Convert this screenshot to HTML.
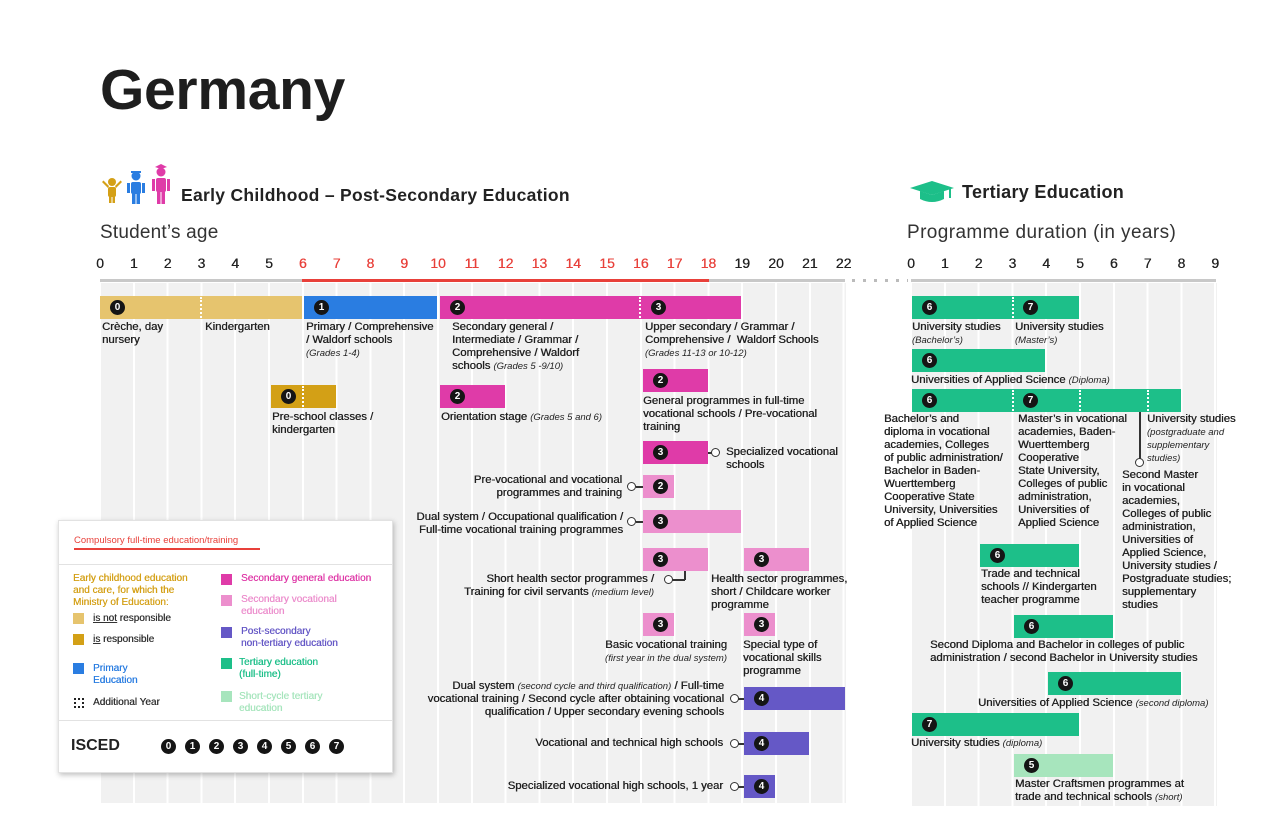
<!DOCTYPE html>
<html><head><meta charset="utf-8">
<style>
*{margin:0;padding:0;box-sizing:border-box}
body{width:1276px;height:826px;background:#fff;position:relative;overflow:hidden;font-family:"Liberation Sans",sans-serif;color:#2a2a2a}
.a{position:absolute}
.bg{position:absolute;background:repeating-linear-gradient(to right,#fff 0 2px,#f1f1f1 2px 33.8px)}
.b{position:absolute;height:23px}
.n{position:absolute;left:10px;top:4px;width:15px;height:15px;border-radius:50%;background:#151515;color:#fff;font:bold 10px/15px "Liberation Sans",sans-serif;text-align:center}
.d{position:absolute;top:1px;bottom:1px;border-left:2px dotted #fff}
.t{position:absolute;font-size:11.3px;line-height:13px;color:#222;white-space:nowrap;text-shadow:0.35px 0 0 #222}
.r{text-align:right}
.i{font-style:italic;font-size:9.5px;text-shadow:none}
.tk{position:absolute;top:255px;font-size:14px;width:30px;margin-left:-15px;text-align:center;color:#222;text-shadow:0.3px 0 0 currentColor}
.red{color:#e8403a}
.c{position:absolute;width:9px;height:9px;border:1.5px solid #333;border-radius:50%;background:#fff}
.ln{position:absolute;background:#333}
.g0{background:#e6c46e}.g1{background:#d3a016}.bl{background:#2a7de1}.mg{background:#df3ba8}.pk{background:#ec8fcd}.pu{background:#6558c6}.gr{background:#1dbf89}.lg{background:#a7e5bd}
.sq{position:absolute;width:11px;height:11px}
.ln2{position:absolute;font-size:10px;line-height:12px;text-shadow:0.3px 0 0 currentColor}
</style></head><body>
<div class="a" style="left:100px;top:57px;font-size:57px;font-weight:bold;color:#1e1e1e;letter-spacing:-0.3px">Germany</div>

<svg class="a" style="left:100px;top:163px" width="75" height="42">
<g fill="#d4a017"><circle cx="12" cy="19" r="4"/><rect x="8" y="24" width="8" height="10" rx="2"/><rect x="9" y="32" width="2.5" height="8"/><rect x="12.5" y="32" width="2.5" height="8"/><path d="M8 25 L2 19 L3.5 17.5 L9 23Z M16 25 L22 19 L20.5 17.5 L15 23Z"/></g>
<g fill="#2a7de1"><circle cx="36" cy="13" r="4.5"/><path d="M31 10 h10 v-2 h-10z"/><rect x="31" y="19" width="10" height="12" rx="2"/><rect x="32" y="30" width="3.5" height="11"/><rect x="36.5" y="30" width="3.5" height="11"/><rect x="27" y="20" width="3" height="10"/><rect x="42" y="20" width="3" height="10"/></g>
<g fill="#df3ba8"><circle cx="61" cy="9" r="4.5"/><path d="M55 4 L61 1 L67 4 L61 6Z"/><rect x="56" y="15" width="10" height="14" rx="2"/><rect x="57" y="28" width="3.5" height="13"/><rect x="61.5" y="28" width="3.5" height="13"/><rect x="52" y="16" width="3" height="12"/><rect x="67" y="16" width="3" height="12"/></g>
</svg>
<div class="a" style="left:181px;top:185px;font-size:17.5px;font-weight:bold;color:#222;letter-spacing:0.3px">Early Childhood – Post-Secondary Education</div>
<svg class="a" style="left:908px;top:180px" width="48" height="24"><path d="M2 8 L24 1 L46 8 L24 15Z" fill="#1dbf89"/><path d="M12 11 v8 q12 6 24 0 v-8 l-12 4z" fill="#1dbf89"/><rect x="41" y="9" width="2" height="9" fill="#1dbf89"/></svg>
<div class="a" style="left:962px;top:182px;font-size:18px;font-weight:bold;color:#222;letter-spacing:0.3px">Tertiary Education</div>
<div class="a" style="left:100px;top:222px;font-size:19px;color:#333;letter-spacing:0.2px">Student’s age</div>
<div class="a" style="left:907px;top:222px;font-size:19px;color:#333;letter-spacing:0.4px">Programme duration (in years)</div>

<div class="bg" style="left:99px;top:283px;width:747px;height:520px"></div>
<div class="bg" style="left:910px;top:283px;width:307px;height:523px"></div>

<div class="a" style="left:100px;top:279px;width:745px;height:3px;background:#c8c8c8"></div>
<div class="a" style="left:302px;top:279px;width:407px;height:3px;background:#e8403a"></div>
<div class="a" style="left:911px;top:279px;width:305px;height:3px;background:#c8c8c8"></div>
<div class="a" style="left:852px;top:279px;width:56px;height:3px;background:repeating-linear-gradient(to right,#bbb 0 3px,transparent 3px 11px)"></div>

<div class="tk" style="left:100px">0</div><div class="tk" style="left:133.8px">1</div><div class="tk" style="left:167.6px">2</div><div class="tk" style="left:201.4px">3</div><div class="tk" style="left:235.2px">4</div><div class="tk" style="left:269px">5</div><div class="tk red" style="left:302.8px">6</div><div class="tk red" style="left:336.6px">7</div><div class="tk red" style="left:370.4px">8</div><div class="tk red" style="left:404.2px">9</div><div class="tk red" style="left:438px">10</div><div class="tk red" style="left:471.8px">11</div><div class="tk red" style="left:505.6px">12</div><div class="tk red" style="left:539.4px">13</div><div class="tk red" style="left:573.2px">14</div><div class="tk red" style="left:607px">15</div><div class="tk red" style="left:640.8px">16</div><div class="tk red" style="left:674.6px">17</div><div class="tk red" style="left:708.4px">18</div><div class="tk" style="left:742.2px">19</div><div class="tk" style="left:776px">20</div><div class="tk" style="left:809.8px">21</div><div class="tk" style="left:843.6px">22</div>
<div class="tk" style="left:911px">0</div><div class="tk" style="left:944.8px">1</div><div class="tk" style="left:978.6px">2</div><div class="tk" style="left:1012.4px">3</div><div class="tk" style="left:1046.2px">4</div><div class="tk" style="left:1080px">5</div><div class="tk" style="left:1113.8px">6</div><div class="tk" style="left:1147.6px">7</div><div class="tk" style="left:1181.4px">8</div><div class="tk" style="left:1215.2px">9</div>

<div class="b g0" style="left:100px;top:296px;width:202px"><div class="n">0</div><div class="d" style="left:100px"></div></div>
<div class="b bl" style="left:304px;top:296px;width:133px"><div class="n">1</div></div>
<div class="b mg" style="left:440px;top:296px;width:301px"><div class="n">2</div><div class="d" style="left:199px"></div><div class="n" style="left:211px">3</div></div>
<div class="t" style="left:102px;top:321px">Crèche, day<br>nursery</div>
<div class="t" style="left:205px;top:321px">Kindergarten</div>
<div class="t" style="left:306px;top:321px">Primary / Comprehensive<br>/ Waldorf schools<br><span class="i">(Grades 1-4)</span></div>
<div class="t" style="left:452px;top:321px">Secondary general /<br>Intermediate / Grammar /<br>Comprehensive / Waldorf<br>schools <span class="i">(Grades 5 -9/10)</span></div>
<div class="t" style="left:645px;top:321px">Upper secondary / Grammar /<br>Comprehensive /&nbsp; Waldorf Schools<br><span class="i">(Grades 11-13 or 10-12)</span></div>

<div class="b g1" style="left:271px;top:385px;width:65px"><div class="n">0</div><div class="d" style="left:31px"></div></div>
<div class="t" style="left:272px;top:411px">Pre-school classes /<br>kindergarten</div>
<div class="b mg" style="left:440px;top:385px;width:65px"><div class="n">2</div></div>
<div class="t" style="left:441px;top:411px">Orientation stage <span class="i">(Grades 5 and 6)</span></div>

<div class="b mg" style="left:643px;top:369px;width:65px"><div class="n">2</div></div>
<div class="t" style="left:643px;top:395px">General programmes in full-time<br>vocational schools / Pre-vocational<br>training</div>

<div class="b mg" style="left:643px;top:441px;width:65px"><div class="n">3</div></div>
<div class="ln" style="left:708px;top:452px;width:5px;height:1.5px"></div><div class="c" style="left:711px;top:448px"></div>
<div class="t" style="left:726px;top:446px">Specialized vocational<br>schools</div>

<div class="b pk" style="left:643px;top:475px;width:31px"><div class="n">2</div></div>
<div class="ln" style="left:636px;top:486px;width:7px;height:1.5px"></div><div class="c" style="left:627px;top:482px"></div>
<div class="t r" style="right:654px;top:474px">Pre-vocational and vocational<br>programmes and training</div>

<div class="b pk" style="left:643px;top:510px;width:98px"><div class="n">3</div></div>
<div class="ln" style="left:636px;top:521px;width:7px;height:1.5px"></div><div class="c" style="left:627px;top:517px"></div>
<div class="t r" style="right:653px;top:511px">Dual system / Occupational qualification /<br>Full-time vocational training programmes</div>

<div class="b pk" style="left:643px;top:548px;width:65px"><div class="n">3</div></div>
<div class="b pk" style="left:744px;top:548px;width:65px"><div class="n">3</div></div>
<div class="ln" style="left:684px;top:571px;width:1.5px;height:9px"></div><div class="ln" style="left:671px;top:579px;width:14px;height:1.5px"></div><div class="c" style="left:664px;top:575px"></div>
<div class="t r" style="right:622px;top:573px">Short health sector programmes /<br>Training for civil servants <span class="i">(medium level)</span></div>
<div class="t" style="left:711px;top:573px">Health sector programmes,<br>short / Childcare worker<br>programme</div>

<div class="b pk" style="left:643px;top:613px;width:31px"><div class="n">3</div></div>
<div class="b pk" style="left:744px;top:613px;width:31px"><div class="n">3</div></div>
<div class="t r" style="right:549px;top:639px">Basic vocational training<br><span class="i">(first year in the dual system)</span></div>
<div class="t" style="left:743px;top:639px">Special type of<br>vocational skills<br>programme</div>

<div class="b pu" style="left:744px;top:687px;width:101px"><div class="n">4</div></div>
<div class="ln" style="left:738px;top:698px;width:6px;height:1.5px"></div><div class="c" style="left:730px;top:694px"></div>
<div class="t r" style="right:552px;top:680px">Dual system <span class="i">(second cycle and third qualification)</span> / Full-time<br>vocational training / Second cycle after obtaining vocational<br>qualification / Upper secondary evening schools</div>

<div class="b pu" style="left:744px;top:732px;width:65px"><div class="n">4</div></div>
<div class="ln" style="left:738px;top:743px;width:6px;height:1.5px"></div><div class="c" style="left:730px;top:739px"></div>
<div class="t r" style="right:553px;top:737px">Vocational and technical high schools</div>

<div class="b pu" style="left:744px;top:775px;width:31px"><div class="n">4</div></div>
<div class="ln" style="left:738px;top:786px;width:6px;height:1.5px"></div><div class="c" style="left:730px;top:782px"></div>
<div class="t r" style="right:553px;top:780px">Specialized vocational high schools, 1 year</div>

<div class="b gr" style="left:912px;top:296px;width:167px"><div class="n">6</div><div class="d" style="left:100px"></div><div class="n" style="left:111px">7</div></div>
<div class="t" style="left:912px;top:321px">University studies<br><span class="i">(Bachelor’s)</span></div>
<div class="t" style="left:1015px;top:321px">University studies<br><span class="i">(Master’s)</span></div>
<div class="b gr" style="left:912px;top:349px;width:133px"><div class="n">6</div></div>
<div class="t" style="left:911px;top:374px">Universities of Applied Science <span class="i">(Diploma)</span></div>
<div class="b gr" style="left:912px;top:389px;width:269px"><div class="n">6</div><div class="d" style="left:100px"></div><div class="n" style="left:111px">7</div><div class="d" style="left:167px"></div><div class="d" style="left:235px"></div></div>
<div class="t" style="left:884px;top:413px">Bachelor’s and<br>diploma in vocational<br>academies, Colleges<br>of public administration/<br>Bachelor in Baden-<br>Wuerttemberg<br>Cooperative State<br>University, Universities<br>of Applied Science</div>
<div class="t" style="left:1018px;top:413px">Master’s in vocational<br>academies, Baden-<br>Wuerttemberg<br>Cooperative<br>State University,<br>Colleges of public<br>administration,<br>Universities of<br>Applied Science</div>
<div class="t" style="left:1147px;top:413px">University studies<br><span class="i">(postgraduate and<br>supplementary<br>studies)</span></div>
<div class="ln" style="left:1139px;top:412px;width:1.5px;height:47px"></div><div class="c" style="left:1135px;top:458px"></div>
<div class="t" style="left:1122px;top:469px">Second Master<br>in vocational<br>academies,<br>Colleges of public<br>administration,<br>Universities of<br>Applied Science,<br>University studies /<br>Postgraduate studies;<br>supplementary<br>studies</div>

<div class="b gr" style="left:980px;top:544px;width:99px"><div class="n">6</div></div>
<div class="t" style="left:981px;top:568px">Trade and technical<br>schools // Kindergarten<br>teacher programme</div>
<div class="b gr" style="left:1014px;top:615px;width:99px"><div class="n">6</div></div>
<div class="t" style="left:930px;top:639px">Second Diploma and Bachelor in colleges of public<br>administration / second Bachelor in University studies</div>
<div class="b gr" style="left:1048px;top:672px;width:133px"><div class="n">6</div></div>
<div class="t" style="left:978px;top:697px">Universities of Applied Science <span class="i">(second diploma)</span></div>
<div class="b gr" style="left:912px;top:713px;width:167px"><div class="n">7</div></div>
<div class="t" style="left:911px;top:737px">University studies <span class="i">(diploma)</span></div>
<div class="b lg" style="left:1014px;top:754px;width:99px"><div class="n">5</div></div>
<div class="t" style="left:1015px;top:778px">Master Craftsmen programmes at<br>trade and technical schools <span class="i">(short)</span></div>

<div class="a" style="left:58px;top:520px;width:335px;height:253px;background:#fff;border:1px solid #e2e2e2;box-shadow:1px 2px 5px rgba(0,0,0,.25)">
 <div class="a" style="left:15px;top:14px;font-size:9.5px;color:#e8403a">Compulsory full-time education/training</div>
 <div class="a" style="left:15px;top:27px;width:186px;height:2px;background:#e8403a"></div>
 <div class="a" style="left:0;top:43px;width:333px;height:1px;background:#e2e2e2"></div>
 <div class="ln2" style="left:14px;top:52px;color:#d4a017">Early childhood education<br>and care, for which the<br>Ministry of Education:</div>
 <div class="sq g0" style="left:14px;top:92px"></div><div class="ln2" style="left:34px;top:92px;color:#333"><u>is not</u> responsible</div>
 <div class="sq g1" style="left:14px;top:113px"></div><div class="ln2" style="left:34px;top:113px;color:#333"><u>is</u> responsible</div>
 <div class="sq bl" style="left:14px;top:142px"></div><div class="ln2" style="left:34px;top:142px;color:#2a7de1">Primary<br>Education</div>
 <div class="a" style="left:15px;top:177px;width:10px;height:10px;border:2px dotted #222"></div><div class="ln2" style="left:34px;top:176px;color:#333">Additional Year</div>
 <div class="sq mg" style="left:162px;top:53px"></div><div class="ln2" style="left:182px;top:52px;color:#df3ba8">Secondary general education</div>
 <div class="sq pk" style="left:162px;top:74px"></div><div class="ln2" style="left:182px;top:73px;color:#ec8fcd">Secondary vocational<br>education</div>
 <div class="sq pu" style="left:162px;top:106px"></div><div class="ln2" style="left:182px;top:105px;color:#6558c6">Post-secondary<br>non-tertiary education</div>
 <div class="sq gr" style="left:162px;top:137px"></div><div class="ln2" style="left:180px;top:136px;color:#1dbf89">Tertiary education<br>(full-time)</div>
 <div class="sq lg" style="left:162px;top:170px"></div><div class="ln2" style="left:180px;top:170px;color:#a7e5bd">Short-cycle tertiary<br>education</div>
 <div class="a" style="left:0;top:199px;width:333px;height:1px;background:#e2e2e2"></div>
 <div class="a" style="left:12px;top:216px;font-size:16px;font-weight:bold;color:#222">ISCED</div>
 <div class="n" style="left:102px;top:218px">0</div><div class="n" style="left:126px;top:218px">1</div><div class="n" style="left:150px;top:218px">2</div><div class="n" style="left:174px;top:218px">3</div><div class="n" style="left:198px;top:218px">4</div><div class="n" style="left:222px;top:218px">5</div><div class="n" style="left:246px;top:218px">6</div><div class="n" style="left:270px;top:218px">7</div>
</div>
</body></html>
